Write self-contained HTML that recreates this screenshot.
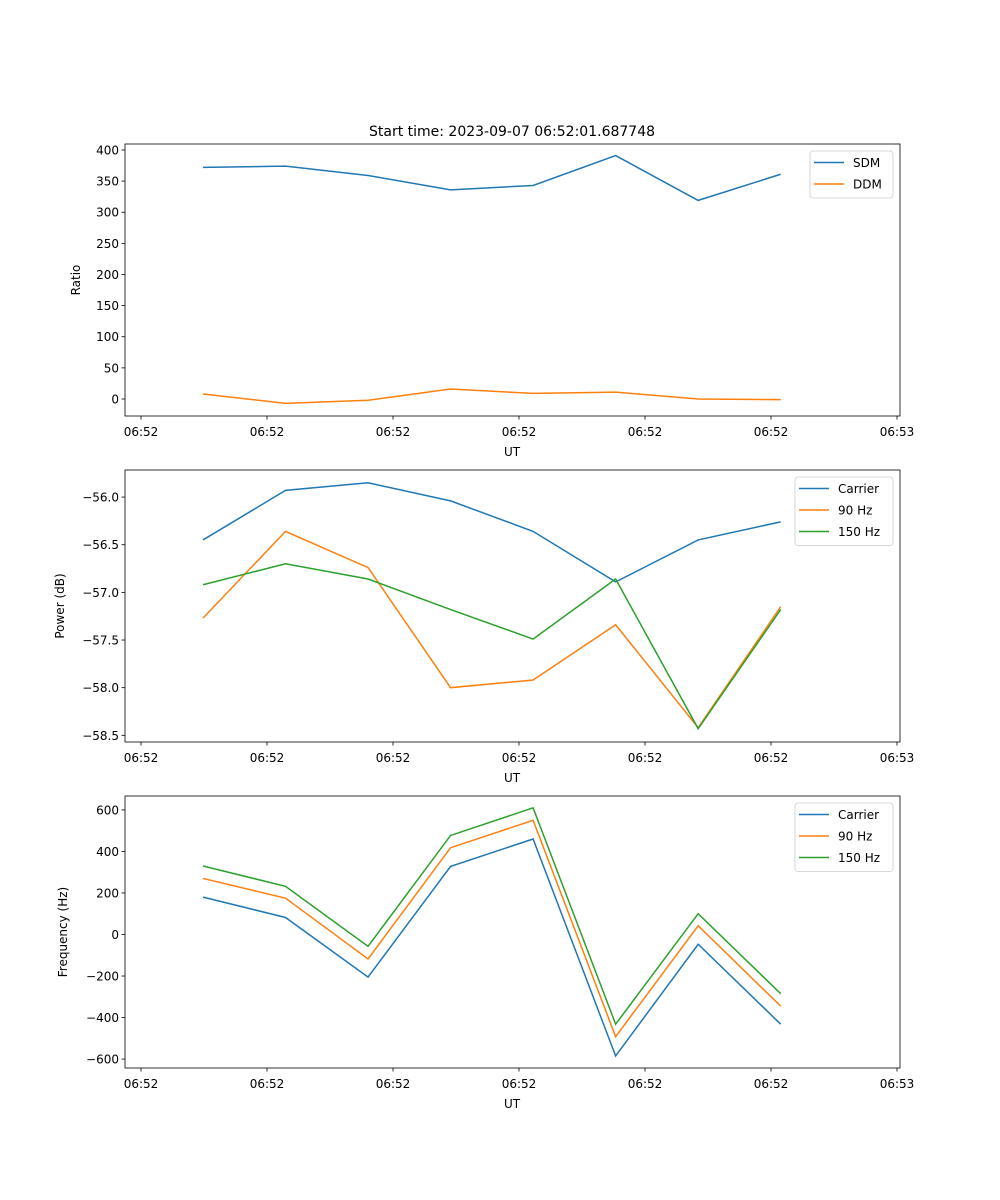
<!DOCTYPE html>
<html><head><meta charset="utf-8"><style>
body{margin:0;background:#fff}
svg{display:block;font-family:"DejaVu Sans","Liberation Sans",sans-serif}
</style></head><body>
<svg id="chart" width="1000" height="1200" xmlns="http://www.w3.org/2000/svg">
<rect width="1000" height="1200" fill="#fff"/>
<text x="512" y="136" font-size="14" text-anchor="middle">Start time: 2023-09-07 06:52:01.687748</text>
</svg>
<script>
const times = [4.92, 11.47, 18.02, 24.57, 31.12, 37.67, 44.22, 50.77];
const tickSecs = [0, 10, 20, 30, 40, 50, 60];
const tickLabels = ["06:52","06:52","06:52","06:52","06:52","06:52","06:53"];
const sdm = [372, 374, 359, 336, 343, 391, 319, 361];
const ddm = [8, -7, -2, 16, 9, 11, 0, -1];
const pCarrier = [-56.45, -55.93, -55.85, -56.04, -56.36, -56.89, -56.45, -56.26];
const p90 = [-57.27, -56.36, -56.74, -58.00, -57.92, -57.34, -58.42, -57.15];
const p150 = [-56.92, -56.70, -56.86, -57.18, -57.49, -56.86, -58.43, -57.18];
const fCarrier = [180, 82, -205, 328, 460, -585, -47, -432];
const f90 = [270, 175, -118, 418, 550, -492, 42, -345];
const f150 = [330, 232, -57, 477, 610, -432, 100, -285];
const ticks1 = [0, 50, 100, 150, 200, 250, 300, 350, 400];
const ticks2 = [-56.0, -56.5, -57.0, -57.5, -58.0, -58.5];
const ticks3 = [600, 400, 200, 0, -200, -400, -600];

const NS = "http://www.w3.org/2000/svg";
const svg = document.getElementById('chart');
function el(tag, attrs, parent) {
  const e = document.createElementNS(NS, tag);
  for (const k in attrs) e.setAttribute(k, attrs[k]);
  (parent || svg).appendChild(e);
  return e;
}
const X0 = 125, X1 = 900;
const xScale = t => 141 + t * 12.6;

function panel(name, top, bottom, yMin, yMax, yTicks, fmt, yTitle, series, legend) {
  const g = el('g', {});
  
  
  const yScale = v => bottom - (v - yMin) / (yMax - yMin) * (bottom - top);
  series.forEach(s => {
    const pts = s.vals.map((v, i) => xScale(times[i]).toFixed(2) + ',' + yScale(v).toFixed(2)).join(' ');
    const pl = el('polyline', {points: pts, fill: 'none', stroke: s.color, 'stroke-width': 1.5}, g);
    
    
  });
  const frame = el('rect', {x: X0, y: top, width: X1 - X0, height: bottom - top, fill: 'none', stroke: '#000', 'stroke-width': 0.8}, g);
  
  
  tickSecs.forEach((t, i) => {
    const x = xScale(t);
    el('line', {x1: x, x2: x, y1: bottom, y2: bottom + 3.5, stroke: '#000', 'stroke-width': 0.8}, g);
    const tx = el('text', {x: x, y: bottom + 20, 'font-size': 12, 'text-anchor': 'middle'}, g);
    
    
    tx.textContent = tickLabels[i];
  });
  yTicks.forEach(v => {
    const y = yScale(v);
    el('line', {x1: X0 - 3.5, x2: X0, y1: y, y2: y, stroke: '#000', 'stroke-width': 0.8}, g);
    const tx = el('text', {x: X0 - 6, y: y + 4.5, 'font-size': 12, 'text-anchor': 'end'}, g);
    
    
    tx.textContent = fmt(v);
  });
  const xt = el('text', {x: 512, y: bottom + 40, 'font-size': 12, 'text-anchor': 'middle'}, g);
  
  
  xt.textContent = 'UT';
  const yx = legend.yTitleX, yc = (top + bottom) / 2;
  const yt = el('text', {x: yx, y: yc, 'font-size': 12, 'text-anchor': 'middle', transform: 'rotate(-90 ' + yx + ' ' + yc + ')'}, g);
  
  
  yt.textContent = yTitle;
  const lg = el('g', {}, g);
  
  
  const lx = legend.x, ly = top + 7, lh = 4 + series.length * 21.5;
  el('rect', {x: lx, y: ly, width: 893 - lx, height: lh, rx: 3, fill: '#fff', 'fill-opacity': 0.8, stroke: '#ccc', 'stroke-width': 0.8}, lg);
  series.forEach((s, i) => {
    const yy = ly + 11.5 + i * 21.5;
    el('line', {x1: lx + 4, x2: lx + 34, y1: yy, y2: yy, stroke: s.color, 'stroke-width': 1.5}, lg);
    const t = el('text', {x: lx + 43, y: yy + 4.5, 'font-size': 12}, lg);
    
    
    t.textContent = s.label;
  });
}
const BLUE = '#1f77b4', ORANGE = '#ff7f0e', GREEN = '#2ca02c';
panel('ratio', 144, 416, -27.3, 409.6, ticks1, v => String(v), 'Ratio',
  [{key: 'sdm', label: 'SDM', vals: sdm, color: BLUE}, {key: 'ddm', label: 'DDM', vals: ddm, color: ORANGE}],
  {x: 810, yTitleX: 80});
panel('power', 470, 742, -58.57, -55.716, ticks2, v => v.toFixed(1).replace('-', '\u2212'), 'Power (dB)',
  [{key: 'carrier', label: 'Carrier', vals: pCarrier, color: BLUE}, {key: '90hz', label: '90 Hz', vals: p90, color: ORANGE}, {key: '150hz', label: '150 Hz', vals: p150, color: GREEN}],
  {x: 795, yTitleX: 64});
panel('frequency', 796, 1068, -643, 667, ticks3, v => String(v).replace('-', '\u2212'), 'Frequency (Hz)',
  [{key: 'carrier', label: 'Carrier', vals: fCarrier, color: BLUE}, {key: '90hz', label: '90 Hz', vals: f90, color: ORANGE}, {key: '150hz', label: '150 Hz', vals: f150, color: GREEN}],
  {x: 795, yTitleX: 67});
</script>
</body></html>
